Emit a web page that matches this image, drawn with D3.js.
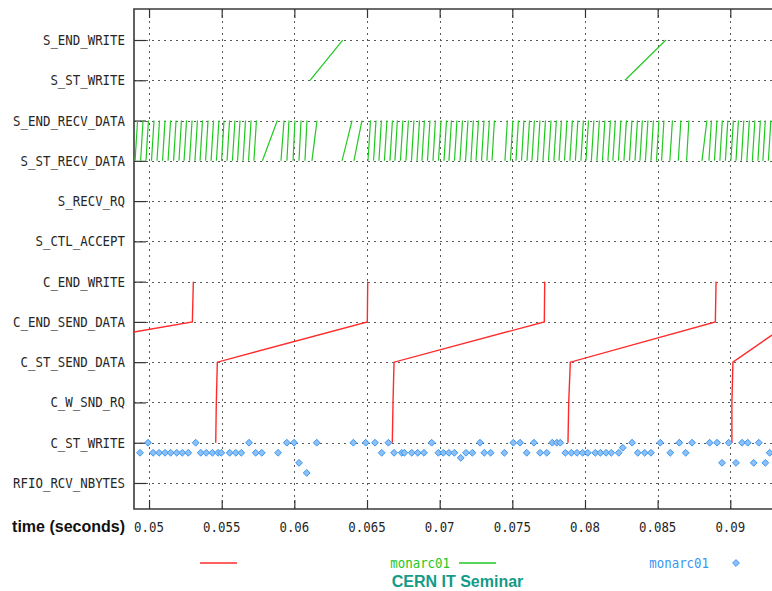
<!DOCTYPE html>
<html>
<head>
<meta charset="utf-8">
<script src="https://cdn.jsdelivr.net/npm/d3@7"></script>
<style>
  html, body { margin: 0; padding: 0; background: #fff; }
  svg { display: block; }
</style>
</head>
<body>
<svg id="chart" width="772" height="591"></svg>
<script>
// Event categories on the y axis, bottom to top
const events = [
  "RFIO_RCV_NBYTES", "C_ST_WRITE", "C_W_SND_RQ", "C_ST_SEND_DATA",
  "C_END_SEND_DATA", "C_END_WRITE", "S_CTL_ACCEPT", "S_RECV_RQ",
  "S_ST_RECV_DATA", "S_END_RECV_DATA", "S_ST_WRITE", "S_END_WRITE"
];

// Time axis ticks (seconds)
const timeTicks = [0.05, 0.055, 0.06, 0.065, 0.07, 0.075, 0.08, 0.085, 0.09];
const timeTickLabels = ["0.05", "0.055", "0.06", "0.065", "0.07", "0.075", "0.08", "0.085", "0.09"];

// Client write cycles: time at C_ST_WRITE, C_W_SND_RQ, C_ST_SEND_DATA, C_END_SEND_DATA, C_END_WRITE
const clientCycles = [
  [null,    null,    0.03693, 0.05298, 0.05305],
  [0.05459, 0.05463, 0.05470, 0.06502, 0.06505],
  [0.06674, 0.06679, 0.06686, 0.07720, 0.07723],
  [0.07883, 0.07888, 0.07899, 0.08897, 0.08902],
  [0.09011, 0.09011, 0.09018, 0.09417, 0.09420]
];

// Server disk writes: [S_ST_WRITE, S_END_WRITE]
const serverWrites = [
  [0.06108, 0.06333],
  [0.08275, 0.08557]
];

// Server network receives: [S_ST_RECV_DATA, S_END_RECV_DATA]
const serverRecvs = [
  [0.04904,0.04921],[0.04942,0.04959],[0.04979,0.04996],[0.05017,0.05034],[0.05055,0.05072],
  [0.05093,0.05110],[0.05131,0.05148],[0.05169,0.05186],[0.05206,0.05223],[0.05241,0.05258],
  [0.05279,0.05296],[0.05316,0.05333],[0.05351,0.05368],[0.05389,0.05406],[0.05427,0.05444],
  [0.05464,0.05481],[0.05499,0.05516],[0.05537,0.05554],[0.05574,0.05591],[0.05609,0.05626],
  [0.05647,0.05664],[0.05685,0.05702],[0.05722,0.05739],
  [0.05780,0.05883],[0.05908,0.05929],[0.05949,0.05963],[0.05991,0.06004],[0.06032,0.06046],
  [0.06073,0.06087],[0.06121,0.06156],
  [0.06328,0.06397],[0.06410,0.06465],
  [0.06507,0.06524],[0.06545,0.06562],[0.06582,0.06599],[0.06620,0.06637],[0.06658,0.06675],
  [0.06692,0.06709],[0.06730,0.06747],[0.06768,0.06785],[0.06806,0.06823],[0.06844,0.06861],
  [0.06878,0.06895],[0.06916,0.06933],[0.06954,0.06971],[0.06992,0.07009],[0.07030,0.07047],
  [0.07064,0.07081],[0.07102,0.07119],[0.07140,0.07157],[0.07178,0.07195],[0.07215,0.07232],
  [0.07250,0.07267],[0.07288,0.07305],[0.07325,0.07342],[0.07360,0.07377],
  [0.07449,0.07466],[0.07487,0.07504],[0.07525,0.07542],[0.07563,0.07580],[0.07601,0.07618],
  [0.07635,0.07652],[0.07673,0.07690],[0.07711,0.07728],[0.07749,0.07766],[0.07786,0.07803],
  [0.07821,0.07838],[0.07859,0.07876],[0.07896,0.07913],[0.07934,0.07951],[0.07972,0.07989],
  [0.08007,0.08024],[0.08044,0.08061],[0.08082,0.08099],[0.08120,0.08137],[0.08158,0.08175],
  [0.08192,0.08209],[0.08230,0.08247],[0.08268,0.08285],[0.08306,0.08323],[0.08344,0.08361],
  [0.08378,0.08395],[0.08416,0.08433],[0.08454,0.08471],[0.08492,0.08509],
  [0.08527,0.08543],[0.08584,0.08602],[0.08642,0.08660],[0.08699,0.08715],
  [0.08805,0.08839],[0.08853,0.08870],[0.08891,0.08908],[0.08928,0.08945],[0.08966,0.08983],
  [0.09004,0.09021],[0.09039,0.09056],[0.09076,0.09093],[0.09114,0.09131],[0.09152,0.09169],
  [0.09190,0.09207],[0.09224,0.09241],[0.09262,0.09279]
];

// RFIO receive samples, grouped by plotted level
const rfioSamples = [
  { level: 1, times: [0.04993,0.05321,0.05688,0.05948,0.05998,0.06154,0.06406,0.06491,0.06555,0.06647,
                      0.06945,0.07278,0.07507,0.07553,0.07649,0.07775,0.07806,0.07830,0.08324,0.08518,
                      0.08649,0.08737,0.08858,0.08909,0.08989,0.09081,0.09120,0.09196] },
  { level: 0.875, times: [0.08260] },
  { level: 0.75, times: [0.04938,0.05028,0.05069,0.05110,0.05149,0.05191,0.05229,0.05270,0.05356,0.05394,
                         0.05436,0.05475,0.05497,0.05555,0.05597,0.05635,0.05734,0.05776,0.05888,0.06601,
                         0.06686,0.06739,0.06757,0.06808,0.06849,0.06892,0.06991,0.07025,0.07064,0.07101,
                         0.07181,0.07225,0.07307,0.07351,0.07445,0.07599,0.07691,0.07737,0.07865,0.07906,
                         0.07945,0.07984,0.08019,0.08071,0.08106,0.08145,0.08181,0.08232,0.08363,0.08411,
                         0.08454,0.08587,0.08693,0.09271] },
  { level: 0.625, times: [0.07145] },
  { level: 0.5, times: [0.06032,0.08943,0.09039,0.09161,0.09241] },
  { level: 0.25, times: [0.06085] }
];

const seriesNames = ["", "monarc01", "monarc01"];

// ---- layout & styles ----
const W = 772, H = 591;
const plot = { left: 134, top: 9, right: 773.9, bottom: 509 };
const RED = "#ff2b2b", GREEN = "#22c822", BLUE = "#3a96f2";
const MONO = "'DejaVu Sans Mono', monospace";
const SANS = "'Liberation Sans', Arial, sans-serif";

const svg = d3.select("#chart");

const x = d3.scaleLinear().domain([0.049, 0.093]).range([plot.left + 0.5, plot.right]);
const y = d3.scaleLinear().domain([-0.646, 11.77]).range([plot.bottom, plot.top]);

svg.append("defs").append("clipPath").attr("id", "plotClip")
  .append("rect")
  .attr("x", plot.left).attr("y", plot.top)
  .attr("width", W - plot.left).attr("height", plot.bottom - plot.top);

// Grid
const grid = svg.append("g").attr("class", "grid");
grid.append("g")
  .attr("transform", `translate(0,${plot.bottom})`)
  .call(d3.axisBottom(x).tickValues(timeTicks).tickSize(-(plot.bottom - plot.top)).tickFormat(""))
  .call(g => g.select(".domain").remove());
grid.append("g")
  .attr("transform", `translate(${plot.left},0)`)
  .call(d3.axisLeft(y).tickValues(d3.range(events.length)).tickSize(-(W - plot.left)).tickFormat(""))
  .call(g => g.select(".domain").remove());
grid.selectAll("line")
  .attr("stroke", "#5a5a5a").attr("stroke-width", 1).attr("stroke-dasharray", "2,4")
  .attr("shape-rendering", "crispEdges");

// Tick marks (inward)
const ticks = svg.append("g").attr("class", "ticks");
ticks.append("g")
  .attr("transform", `translate(0,${plot.bottom})`)
  .call(d3.axisBottom(x).tickValues(timeTicks).tickSize(-9).tickFormat(""));
ticks.append("g")
  .attr("transform", `translate(0,${plot.top})`)
  .call(d3.axisTop(x).tickValues(timeTicks).tickSize(-9).tickFormat(""));
ticks.append("g")
  .attr("transform", `translate(${plot.left},0)`)
  .call(d3.axisLeft(y).tickValues(d3.range(events.length)).tickSize(-12).tickFormat(""));
ticks.selectAll(".domain").remove();
ticks.selectAll("line").attr("stroke", "#333").attr("stroke-width", 1.2);

// Border (left, top, bottom)
svg.append("path")
  .attr("d", `M${W},${plot.top}H${plot.left}V${plot.bottom}H${W}`)
  .attr("fill", "none").attr("stroke", "#3a3a3a").attr("stroke-width", 1.6);

// Mono text helper (slightly tall bitmap-like face)
function monoText(sel, tx, ty, str, anchor, fill) {
  return sel.append("text")
    .attr("transform", `translate(${tx},${ty}) scale(1,1.13)`)
    .attr("y", 4.4)
    .attr("text-anchor", anchor)
    .attr("font-family", MONO)
    .attr("font-size", "12.4px")
    .attr("fill", fill)
    .text(str);
}

// Y labels
const ylab = svg.append("g");
events.forEach((name, i) => monoText(ylab, 125, y(i), name, "end", "#262626"));

// X labels
const xlab = svg.append("g");
timeTicks.forEach((t, i) => monoText(xlab, x(t), 526.7, timeTickLabels[i], "middle", "#262626"));

svg.append("text")
  .attr("x", 125).attr("y", 532)
  .attr("text-anchor", "end")
  .attr("font-family", SANS).attr("font-weight", "bold").attr("font-size", "16px")
  .attr("fill", "#111")
  .text("time (seconds)");

// ---- data ----
const data = svg.append("g").attr("clip-path", "url(#plotClip)");
const line = d3.line().defined(d => d[0] != null).x(d => x(d[0])).y(d => y(d[1]));

// client cycles (red)
data.append("g").selectAll("path")
  .data(clientCycles.map(c => c.map((t, k) => [t, k + 1])))
  .join("path")
  .attr("d", line)
  .attr("fill", "none").attr("stroke", RED).attr("stroke-width", 1.4);

// server receives (green)
data.append("g").selectAll("path")
  .data(serverRecvs.map(r => [[r[0], 8], [r[1], 9]]))
  .join("path")
  .attr("d", line)
  .attr("fill", "none").attr("stroke", GREEN).attr("stroke-width", 1.2);

// server writes (green)
data.append("g").selectAll("path")
  .data(serverWrites.map(r => [[r[0], 10], [r[1], 11]]))
  .join("path")
  .attr("d", line)
  .attr("fill", "none").attr("stroke", GREEN).attr("stroke-width", 1.2);

// rfio samples (blue diamonds)
const diamond = "M0,-3.4L3.4,0L0,3.4L-3.4,0Z";
const pts = rfioSamples.flatMap(s => s.times.map(t => [t, s.level]));
data.append("g").selectAll("path")
  .data(pts)
  .join("path")
  .attr("transform", d => `translate(${x(d[0])},${y(d[1])})`)
  .attr("d", diamond)
  .attr("fill", "#8cc0f6").attr("stroke", BLUE).attr("stroke-width", 1);

// ---- legend ----
const legend = svg.append("g");
const ly = 563;
monoText(legend, 192, ly, seriesNames[0], "end", RED);
legend.append("line").attr("x1", 200).attr("x2", 237).attr("y1", ly).attr("y2", ly)
  .attr("stroke", RED).attr("stroke-width", 1.6);
monoText(legend, 450, ly, seriesNames[1], "end", GREEN);
legend.append("line").attr("x1", 459).attr("x2", 496).attr("y1", ly).attr("y2", ly)
  .attr("stroke", GREEN).attr("stroke-width", 1.6);
monoText(legend, 709, ly, seriesNames[2], "end", BLUE);
legend.append("path").attr("transform", `translate(736,${ly})`).attr("d", diamond)
  .attr("fill", "#8cc0f6").attr("stroke", BLUE).attr("stroke-width", 1);

svg.append("text")
  .attr("x", 457.5).attr("y", 587)
  .attr("text-anchor", "middle")
  .attr("font-family", SANS).attr("font-weight", "bold").attr("font-size", "16px")
  .attr("fill", "#139a88")
  .text("CERN IT Seminar");
</script>
</body>
</html>
